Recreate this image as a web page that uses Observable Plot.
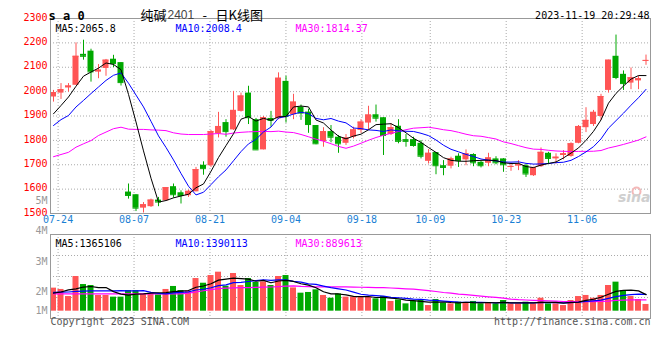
<!DOCTYPE html>
<html><head><meta charset="utf-8">
<script src="https://cdn.jsdelivr.net/npm/d3@7"></script>
<script src="https://cdn.jsdelivr.net/npm/@observablehq/plot@0.6"></script>
<style>
body{margin:0;background:#fff}
#wrap{position:relative;width:660px;height:360px;background:#fff;overflow:hidden}
#wrap svg{position:absolute;left:0}
</style></head><body><div id="wrap"></div>
<script>
// ---- data (daily candles 07-21 .. 11-17) ----
const opens = [1978,1994,2015,2026,2153,2166,2080,2095,2133,2119, 1588,1577,1522,1528,1555,1552,1610,1585,1573,1589, 1698,1696,1827,1873,1843,1919,1994,1885,1761,1890, 1889,2042,1905,1936,1916,1861,1795,1836,1813,1788, 1813,1841,1871,1905,1893,1824,1858,1803,1803,1788, 1714,1750,1696,1694,1735,1720,1742,1710,1706,1724, 1724,1690,1695,1696,1655,1692,1747,1724,1738,1734, 1788,1852,1865,1898,2005,2145,2071,2035,2044,2126];
const highs = [2005,2033,2033,2200,2211,2174,2111,2132,2149,2119, 1621,1577,1545,1559,1566,1606,1621,1593,1596,1689, 1712,1841,1915,1885,2001,1994,2022,1890,1898,1919, 2077,2063,1989,1945,1928,1861,1852,1861,1820,1824, 1854,1885,1940,1945,1893,1868,1885,1824,1813,1799, 1762,1750,1717,1731,1745,1761,1745,1714,1747,1733, 1725,1706,1717,1703,1690,1769,1751,1745,1758,1790, 1861,1934,1923,1989,2129,2232,2085,2097,2063,2150];
const lows = [1957,1968,1998,2026,2129,2039,2053,2063,2099,2023, 1559,1508,1502,1525,1528,1552,1563,1539,1566,1589, 1657,1689,1810,1813,1841,1916,1865,1761,1761,1854, 1885,1871,1885,1882,1829,1782,1772,1790,1747,1779, 1806,1829,1843,1875,1738,1820,1786,1772,1772,1724, 1703,1659,1655,1683,1689,1696,1692,1687,1692,1700, 1669,1673,1676,1648,1652,1689,1703,1703,1720,1731, 1786,1832,1857,1882,1994,2049,2005,2008,2008,2108];
const closes = [1996,2008,2023,2145,2145,2081,2088,2129,2115,2037, 1574,1522,1536,1555,1547,1606,1577,1574,1591,1680, 1684,1836,1857,1836,1923,1982,1893,1761,1893,1882, 2055,1898,1957,1912,1865,1786,1836,1813,1786,1810, 1843,1875,1904,1891,1820,1852,1796,1796,1779,1735, 1747,1696,1689,1724,1717,1745,1708,1696,1728,1708, 1700,1693,1700,1662,1687,1751,1726,1731,1745,1786, 1857,1882,1915,1980,2129,2058,2033,2057,2053,2128];
const volumes = [1920000,1810000,1220000,2890000,2220000,2140000,1310000,1310000,1170000,1170000, 1720000,1720000,1440000,1440000,1360000,1810000,2060000,1720000,1670000,2720000, 2330000,2970000,3250000,2080000,3140000,2140000,2720000,2390000,2440000,2140000, 2890000,2970000,1940000,1500000,1560000,1780000,1310000,1080000,1440000,1170000, 1170000,1170000,1170000,1030000,1220000,810000,940000,610000,830000,890000, 470000,970000,670000,610000,750000,720000,810000,610000,720000,610000, 890000,610000,610000,750000,610000,1080000,610000,610000,470000,890000, 1220000,1310000,1080000,1310000,2140000,2420000,1720000,1220000,970000,560000];
// moving-average values before a full window exists
const ma5Lead = [1909,1943,1978,2022];
const ma10Lead = [1861,1885,1902,1937,1964,1992,2019,2046,2067];
const ma30Lead = [1733,1742,1751,1772,1786,1799,1820,1834,1848,1854, 1846,1845,1845,1843,1842,1840,1831,1826,1824,1824, 1824,1826,1828,1825,1830,1833,1835,1836,1837];
const vma5Lead = [1500000,1600000,1780000,1860000];
const vma10Lead = [1560000,1580000,1600000,1650000,1670000,1690000,1690000,1700000,1700000];
const vma30Lead = [1440000,1440000,1440000,1440000,1440000,1440000,1440000,1440000,1440000,1440000, 1440000,1440000,1440000,1440000,1440000,1440000,1440000,1440000,1500000,1600000, 1700000,1800000,1880000,1920000,1940000,1960000,1970000,1980000,2000000];
const tickLabels = ["07-24","08-07","08-21","09-04","09-18","10-09","10-23","11-06"];
const tickIndex = [1,11,21,31,41,50,60,70];
const priceTicks = [2300,2200,2100,2000,1900,1800,1700,1600,1500];
const volAxisLabels = ["5M","4M","3M","2M","1M"];
const volAxisValues = [5,4,3,2,1];
const maTexts = ["MA5:2065.8","MA10:2008.4","MA30:1814.37"];
const volMaTexts = ["MA5:1365106","MA10:1390113","MA30:889613"];
const maColors = ["#000000","#0000ff","#ff00ff"];
const maWindows = [5,10,30];

// ---- derived ----
const RED = "#ff5555", GREEN = "#00a800", GRID = "#aaaaaa", MONO = "DejaVu Sans Mono";
const N = closes.length;
const gx = i => i * N / (N - 1);          // date grid/label position
const cx = d => d.i + 0.4;                 // candle centre within its slot
const candles = closes.map((c, i) => ({i, o: opens[i], h: highs[i], l: lows[i], c, col: c >= opens[i] ? RED : GREEN}));
const movingAvg = (vals, k, lead) => vals.map((v, i) => i < k - 1 ? lead[i] : d3.mean(vals.slice(i - k + 1, i + 1)));
const priceLeads = [ma5Lead, ma10Lead, ma30Lead];
const volLeads = [vma5Lead, vma10Lead, vma30Lead];
const maRows = maWindows.flatMap((k, m) => movingAvg(closes, k, priceLeads[m]).map((v, i) => ({i, v, s: maColors[m], m}))).reverse();
const volRows = volumes.map((v, i) => ({i, v, col: candles[i].col}));
const vmaRows = maWindows.flatMap((k, m) => movingAvg(volumes, k, volLeads[m]).map((v, i) => ({i, v, s: maColors[m], m}))).reverse();
const ticks = tickIndex.map((idx, k) => ({idx, label: tickLabels[k]}));
const dotted = {stroke: GRID, strokeDasharray: "1,2"};
const txt = {fontFamily: MONO, fontSize: 10};

const main = Plot.plot({
  width: 660, height: 230, marginTop: 18, marginBottom: 17, marginLeft: 50, marginRight: 10,
  x: {domain: [0, N], axis: null},
  y: {domain: [1500, 2300], axis: null},
  color: {type: "identity"},
  style: {background: "transparent", fontFamily: MONO, fontSize: "10px"},
  marks: [
    Plot.ruleY(priceTicks.slice(1, -1), dotted),
    Plot.ruleX(ticks, {x: d => gx(d.idx), ...dotted}),
    Plot.ruleX(candles, {x: cx, y1: "l", y2: "h", stroke: "col"}),
    Plot.rect(candles, {x1: "i", x2: d => d.i + 0.8, y1: d => Math.min(d.o, d.c), y2: d => Math.max(d.o, d.c), fill: "col"}),
    Plot.ruleY(candles, {y: "c", x1: "i", x2: d => d.i + 0.8, stroke: "col"}),
    Plot.line(maRows, {x: cx, y: "v", z: "m", stroke: "s", strokeWidth: 1}),
    Plot.frame({stroke: "#999"}),
    Plot.text(priceTicks, {y: d => d, text: d => String(d), frameAnchor: "left", textAnchor: "end", dx: -3, dy: -1, fill: "#ff0000", ...txt}),
    Plot.text(ticks, {x: d => gx(d.idx), text: "label", frameAnchor: "bottom", dy: 9, fill: "#1a7fd4", ...txt}),
    ...maTexts.map((t, k) => Plot.text([t], {text: d => d, frameAnchor: "top-left", dx: 5 + 120 * k, dy: 6, textAnchor: "start", fill: maColors[k], ...txt})),
    Plot.text(["s a 0"], {text: d => d, frameAnchor: "top-left", dx: -2, dy: -7, textAnchor: "start", fontFamily: MONO, fontSize: 12, fontWeight: "bold", fill: "#000"}),
    Plot.text(["纯碱"], {text: d => d, frameAnchor: "top-left", dx: 90, dy: -8, textAnchor: "start", fontFamily: "Noto Sans CJK SC", fontSize: 13, fill: "#000"}),
    Plot.text(["2401"], {text: d => d, frameAnchor: "top-left", dx: 117, dy: -8, textAnchor: "start", fontFamily: "Liberation Sans", fontSize: 12, fill: "#444"}),
    Plot.text(["-"], {text: d => d, frameAnchor: "top-left", dx: 152, dy: -8, fontFamily: "Noto Sans CJK SC", fontSize: 13, fill: "#000"}),
    Plot.text(["日K线图"], {text: d => d, frameAnchor: "top-left", dx: 165, dy: -8, textAnchor: "start", fontFamily: "Noto Sans CJK SC", fontSize: 13, fill: "#000"}),
    Plot.text(["2023-11-19 20:29:48"], {text: d => d, frameAnchor: "top-right", dx: -1, dy: -7, textAnchor: "end", fill: "#000", ...txt}),
    Plot.dot([0], {frameAnchor: "bottom-right", dx: -14, dy: -22, r: 4, stroke: "#f4b8b8", strokeWidth: 2, fill: "none"}),
    Plot.text(["sina"], {text: d => d, frameAnchor: "bottom-right", dx: 0, dy: -12, textAnchor: "end", fontFamily: "DejaVu Sans", fontSize: 14, fontStyle: "italic", fontWeight: "bold", fill: "#cfcfcf"})
  ]
});
main.style.top = "0px";

const vDomain = [-610000, 6390000];
const vGrid = [1, 2, 3].map(k => vDomain[0] + k * (vDomain[1] - vDomain[0]) / 4);
// Sina's volume labels sit on their own spacing (2M, then 2.51M per step), the lowest one held inside the frame
const labelAt = L => Math.max(1640000 + (L - 2) * 2510000, vDomain[0] + 640000);
const vol = Plot.plot({
  width: 660, height: 170, marginTop: 44, marginBottom: 42, marginLeft: 50, marginRight: 10,
  x: {domain: [0, N], axis: null},
  y: {domain: vDomain, axis: null},
  color: {type: "identity"},
  style: {background: "transparent", fontFamily: MONO, fontSize: "10px"},
  marks: [
    Plot.ruleY(vGrid, dotted),
    Plot.ruleX(ticks, {x: d => gx(d.idx), ...dotted}),
    Plot.rect(volRows, {x1: "i", x2: d => d.i + 0.8, y1: 0, y2: "v", fill: "col"}),
    Plot.line(vmaRows, {x: cx, y: "v", z: "m", stroke: "s", strokeWidth: 1.2}),
    Plot.frame({stroke: "#999"}),
    Plot.text(volAxisValues, {y: labelAt, text: (d, k) => volAxisLabels[k], frameAnchor: "left", textAnchor: "end", dx: -3, fill: "#999", ...txt}),
    ...volMaTexts.map((t, k) => Plot.text([t], {text: d => d, frameAnchor: "top-left", dx: 5 + 120 * k, dy: 5, textAnchor: "start", fill: maColors[k], ...txt})),
    Plot.text(["Copyright 2023 SINA.COM"], {text: d => d, frameAnchor: "bottom-left", dy: 6, textAnchor: "start", fill: "#555", ...txt}),
    Plot.text(["http://finance.sina.com.cn"], {text: d => d, frameAnchor: "bottom-right", dy: 6, textAnchor: "end", fill: "#555", ...txt})
  ]
});
vol.style.top = "190px";

const wrap = document.getElementById("wrap");
wrap.appendChild(main);
wrap.appendChild(vol);
</script></body></html>
